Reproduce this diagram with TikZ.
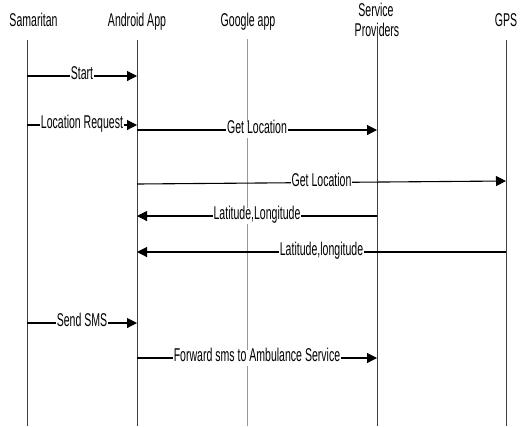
\documentclass[tikz,border=0pt]{standalone}
\usepackage{fontspec}
\setmainfont[FakeStretch=0.57]{Liberation Sans}
\usetikzlibrary{arrows.meta}
\begin{document}
\begin{tikzpicture}[x=1bp,y=-1bp,
  every node/.style={font=\fontsize{18.5bp}{20bp}\selectfont},
  head/.style={anchor=base,inner sep=0pt},
  life/.style={draw=black!75,line width=0.9bp},
  lifeg/.style={draw=black!40,line width=0.9bp},
  msg/.style={draw=black,line width=1.1bp,-{Triangle[length=10bp,width=10bp]}},
  lbl/.style={fill=white,inner xsep=1bp,inner ysep=4.5bp,text height=0.716em,text depth=0pt,pos=0.5}]
\useasboundingbox (0,0) rectangle (521,426);
% headers
\node[head] (sam) at (33.5,26) {Samaritan};
\node[head] (and) at (137,26) {Android App};
\node[head] (goo) at (248,26) {Google app};
\node[head] (sp1) at (376,16) {Service};
\node[head] (sp2) at (377,36) {Providers};
\node[head] (gps) at (506,26) {GPS};
% lifeline ends
\coordinate (samT) at (27,40);  \coordinate (samB) at (27,426);
\coordinate (andT) at (137,40); \coordinate (andB) at (137,426);
\coordinate (gooT) at (247,39); \coordinate (gooB) at (247,426);
\coordinate (spT)  at (377,29); \coordinate (spB)  at (377,426);
\coordinate (gpsT) at (506,40); \coordinate (gpsB) at (506,426);
\draw[life] (samT) -- (samB);
\draw[life] (andT) -- (andB);
\draw[lifeg] (gooT) -- (gooB);
\draw[life] (spT) -- (spB);
\draw[life] (gpsT) -- (gpsB);
% message points
\coordinate (s1) at (27,76);   \coordinate (a1) at (137,76);
\coordinate (s2) at (27,125);  \coordinate (a2) at (137,125);
\coordinate (a3) at (137,130); \coordinate (p3) at (377,130);
\coordinate (a4) at (137,184); \coordinate (g4) at (506,181);
\coordinate (p5) at (377,216); \coordinate (a5) at (137,216);
\coordinate (g6) at (506,252); \coordinate (a6) at (137,252);
\coordinate (s7) at (27,323);  \coordinate (a7) at (137,323);
\coordinate (a8) at (137,358); \coordinate (p8) at (377,358);
\draw[msg] (s1) -- node[lbl] (m1) {Start} (a1);
\draw[msg] (s2) -- node[lbl] (m2) {Location Request} (a2);
\draw[msg] (a3) -- node[lbl] (m3) {Get Location} (p3);
\draw[msg] (a4) -- node[lbl] (m4) {Get Location} (g4);
\draw[msg] (p5) -- node[lbl] (m5) {Latitude,Longitude} (a5);
\draw[msg] (g6) -- node[lbl] (m6) {Latitude,longitude} (a6);
\draw[msg] (s7) -- node[lbl] (m7) {Send SMS} (a7);
\draw[msg] (a8) -- node[lbl] (m8) {Forward sms to Ambulance Service} (p8);
\end{tikzpicture}
\end{document}
